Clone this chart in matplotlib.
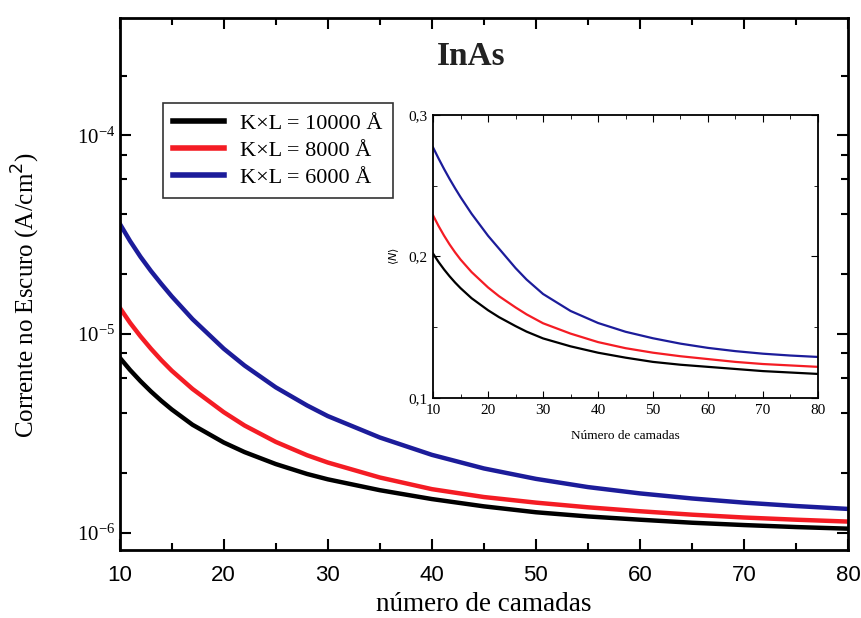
import matplotlib
matplotlib.use('Agg')
import matplotlib.pyplot as plt
from matplotlib.ticker import FixedLocator, NullFormatter, MultipleLocator, FuncFormatter
import numpy as np

# number of layers (main panel)
camadas = [10, 11, 12, 13, 14, 15, 17, 20, 22, 25, 28, 30, 35, 40, 45, 50, 55, 60, 65, 70, 75, 80]

# dark current (A/cm^2)
j_10000 = [7.62e-6, 6.6e-6, 5.8e-6, 5.15e-6, 4.62e-6, 4.18e-6, 3.5e-6, 2.85e-6, 2.55e-6, 2.22e-6, 1.98e-6,
           1.86e-6, 1.64e-6, 1.48e-6, 1.36e-6, 1.27e-6, 1.21e-6, 1.165e-6, 1.125e-6, 1.095e-6, 1.07e-6, 1.05e-6]
j_8000 = [1.36e-5, 1.14e-5, 9.75e-6, 8.45e-6, 7.4e-6, 6.55e-6, 5.3e-6, 4.05e-6, 3.47e-6, 2.87e-6, 2.46e-6,
          2.26e-6, 1.90e-6, 1.66e-6, 1.515e-6, 1.42e-6, 1.345e-6, 1.285e-6, 1.235e-6, 1.195e-6, 1.165e-6, 1.14e-6]
j_6000 = [3.6e-5, 2.94e-5, 2.45e-5, 2.08e-5, 1.79e-5, 1.55e-5, 1.19e-5, 8.45e-6, 6.95e-6, 5.4e-6, 4.38e-6,
          3.87e-6, 3.02e-6, 2.47e-6, 2.11e-6, 1.87e-6, 1.70e-6, 1.58e-6, 1.49e-6, 1.42e-6, 1.365e-6, 1.32e-6]

# inset <N>
camadas_in = [10, 11, 12, 13, 14, 15, 17, 20, 22, 25, 27, 30, 35, 40, 45, 50, 55, 60, 65, 70, 75, 80]
n_10000 = [0.202, 0.1961, 0.1908, 0.186, 0.1816, 0.1776, 0.1705, 0.162, 0.1571, 0.1508, 0.1469, 0.1421,
           0.1365, 0.132, 0.1285, 0.1255, 0.1235, 0.122, 0.1205, 0.119, 0.118, 0.117]
n_8000 = [0.229, 0.2215, 0.2147, 0.2085, 0.2029, 0.1978, 0.189, 0.1781, 0.1719, 0.164, 0.1591, 0.1528,
          0.1455, 0.1395, 0.1352, 0.132, 0.1295, 0.1275, 0.1255, 0.124, 0.123, 0.122]
n_6000 = [0.277, 0.2692, 0.2618, 0.2548, 0.2482, 0.2419, 0.2302, 0.2146, 0.2055, 0.1918, 0.1837, 0.1735,
          0.1615, 0.153, 0.1468, 0.1422, 0.1384, 0.1354, 0.1331, 0.1313, 0.130, 0.129]

labels = ['K×L = 10000 Å', 'K×L = 8000 Å', 'K×L = 6000 Å']
colors = ['black', '#f41c24', '#1c1c9a']

serif = 'Liberation Serif'

fig = plt.figure(figsize=(8.61, 6.18), dpi=100)
ax = fig.add_axes([0.139, 0.110, 0.846, 0.861])

for y, c, lab in zip([j_10000, j_8000, j_6000], colors, labels):
    ax.plot(camadas, y, color=c, lw=3.2, label=lab, solid_joinstyle='round')

ax.set_yscale('log')
ax.set_xlim(10, 80)
ax.set_ylim(8.2e-7, 3.9e-4)
ax.xaxis.set_major_locator(MultipleLocator(10))
ax.xaxis.set_minor_locator(MultipleLocator(5))
ax.yaxis.set_major_locator(FixedLocator([1e-6, 1e-5, 1e-4]))
minors = [m * 10.0 ** e for e in (-7, -6, -5, -4) for m in (2, 4, 6, 8)]
ax.yaxis.set_minor_locator(FixedLocator(minors))
ax.yaxis.set_minor_formatter(NullFormatter())
ax.yaxis.set_major_formatter(FuncFormatter(lambda v, p: r'$\mathregular{10^{%d}}$' % round(np.log10(v))))
ax.tick_params(which='both', direction='in', top=True, right=True, width=1.5)
ax.tick_params(which='major', length=8)
ax.tick_params(which='minor', length=5)
ax.tick_params(axis='x', pad=11, labelsize=16)
ax.tick_params(axis='y', pad=3, labelsize=15)
for t in ax.get_xticklabels():
    t.set_family('Liberation Sans')
for t in ax.get_yticklabels():
    t.set_family(serif)
for s in ax.spines.values():
    s.set_linewidth(2)

ax.set_xlabel('número de camadas', family=serif, fontsize=19.5, labelpad=4)
ax.set_ylabel('Corrente no Escuro (A/cm$^2$)', family=serif, fontsize=18)
ax.yaxis.set_label_coords(-0.107, 0.479)
ax.text(0.482, 0.928, 'InAs', transform=ax.transAxes, family=serif,
        fontsize=24, fontweight='bold', color='#222222', ha='center', va='center')

leg = ax.legend(loc='upper left', bbox_to_anchor=(0.059, 0.840), frameon=True,
                fancybox=False, edgecolor='black', handlelength=2.3,
                prop={'family': serif, 'size': 16}, borderpad=0.45, borderaxespad=0,
                labelspacing=0.3, handletextpad=0.75)
leg.get_frame().set_linewidth(1.2)
for h in leg.get_lines():
    h.set_linewidth(4)

# inset
ins = fig.add_axes([0.503, 0.356, 0.447, 0.458])
for y, c in zip([n_10000, n_8000, n_6000], colors):
    ins.plot(camadas_in, y, color=c, lw=1.6, solid_joinstyle='round')
ins.set_xlim(10, 80)
ins.set_ylim(0.1, 0.3)
ins.xaxis.set_major_locator(MultipleLocator(10))
ins.xaxis.set_minor_locator(MultipleLocator(5))
ins.yaxis.set_major_locator(MultipleLocator(0.1))
ins.yaxis.set_minor_locator(MultipleLocator(0.05))
ins.yaxis.set_major_formatter(FuncFormatter(lambda v, p: ('%.1f' % v).replace('.', ',')))
ins.tick_params(which='both', direction='in', top=True, right=True, labelsize=11, pad=4)
ins.tick_params(which='major', length=5)
ins.tick_params(which='minor', length=3)
for t in ins.get_xticklabels() + ins.get_yticklabels():
    t.set_family(serif)
for s in ins.spines.values():
    s.set_linewidth(1.3)
ins.set_xlabel('Número de camadas', family=serif, fontsize=9.5, labelpad=10)
ins.set_ylabel(r'$\langle N \rangle$', fontsize=8, labelpad=5)

fig.savefig('out.png', dpi=100)
